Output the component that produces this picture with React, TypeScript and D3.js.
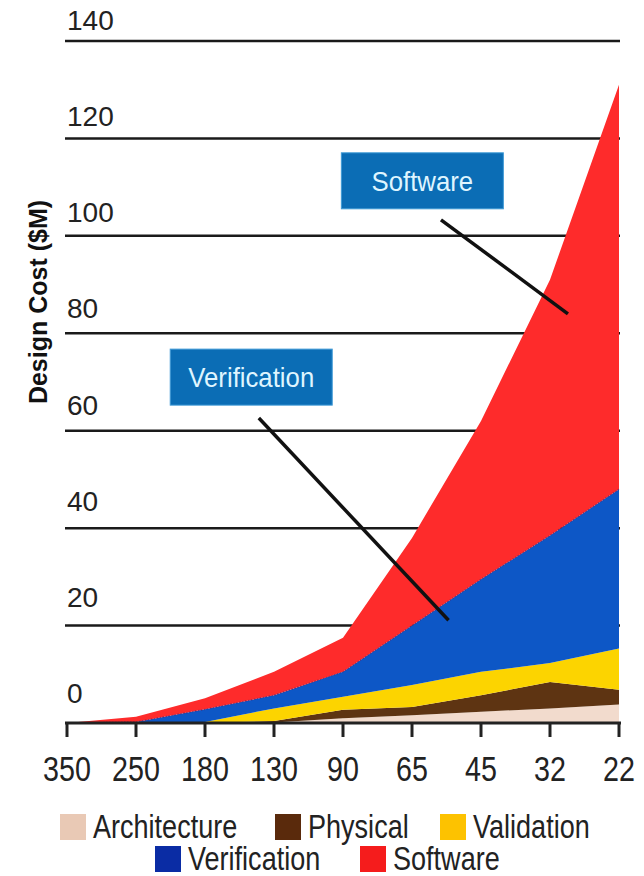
import React, { useEffect, useRef } from "react";
import * as d3 from "d3";

// node sizes (nm)
const categories = ["350", "250", "180", "130", "90", "65", "45", "32", "22"];

// design cost per node, $M
const architecture = [0, 0, 0, 0.1, 1.0, 1.6, 2.3, 3.0, 3.8];
const physical = [0, 0, 0, 0.3, 1.7, 1.7, 3.4, 5.4, 3.0];
const validation = [0, 0, 0.2, 2.6, 2.7, 4.5, 4.8, 3.9, 8.5];
const verification = [0, 0.2, 2.6, 2.7, 5.1, 12.2, 19, 26.2, 32.7];
const software = [0, 1.1, 2.3, 4.8, 7, 18, 32.5, 52.5, 83];

const yTicks = [0, 20, 40, 60, 80, 100, 120, 140];

const seriesNames = ["Architecture", "Physical", "Validation", "Verification", "Software"];
const areaColors = ["#f2dbcd", "#5e3412", "#fcd400", "#0d57c6", "#fe2b2b"];
const legendColors = ["#e9c9b5", "#5a2a0c", "#fdc200", "#0a2ca4", "#f51c1c"];

// callouts: box centre and leader line, in data terms (category + fraction of a step, value)
const callouts = [
  { label: "Software", box: ["65", 0.15, 111.3], from: ["65", 0.42, 103.3], to: ["32", 0.26, 84] },
  { label: "Verification", box: ["130", -0.33, 71], from: ["130", -0.22, 62.6], to: ["65", 0.53, 21.1] },
];

const NARROW = 0.82; // no narrow font installed, squeeze the regular one

const App = () => {
  const ref = useRef<SVGSVGElement>(null);

  useEffect(() => {
    const svg = d3.select(ref.current);
    svg.selectAll("*").remove();

    const x = d3.scalePoint().domain(categories).range([67, 619]).padding(0);
    const y = d3.scaleLinear().domain([0, 140]).range([723, 41]);
    // tick labels sit a little above each gridline
    const yLabel = d3.scaleLinear().domain([0, 140]).range([703, 30]);
    const step = x.step();

    const rows = categories.map((c, i) => ({
      cat: c,
      Architecture: architecture[i],
      Physical: physical[i],
      Validation: validation[i],
      Verification: verification[i],
      Software: software[i],
    }));
    const stacked = d3.stack<any>().keys(seriesNames)(rows);

    // gridlines + labels
    svg
      .append("g")
      .selectAll("line")
      .data(yTicks.filter((d) => d > 0))
      .enter()
      .append("line")
      .attr("x1", 65)
      .attr("x2", 620)
      .attr("y1", (d) => y(d))
      .attr("y2", (d) => y(d))
      .attr("stroke", "#1a1a1a")
      .attr("stroke-width", 2.5);

    svg
      .append("g")
      .selectAll("text")
      .data(yTicks)
      .enter()
      .append("text")
      .attr("x", 67)
      .attr("y", (d) => yLabel(d))
      .attr("font-family", "'Liberation Sans', Arial, sans-serif")
      .attr("font-size", 28)
      .attr("fill", "#222")
      .text((d) => d);

    // stacked areas
    const area = d3
      .area<any>()
      .x((d) => x(d.data.cat) as number)
      .y0((d) => y(d[0]))
      .y1((d) => y(d[1]));

    svg
      .append("g")
      .selectAll("path")
      .data(stacked)
      .enter()
      .append("path")
      .attr("fill", (d, i) => areaColors[i])
      .attr("d", area);

    // dotted seam between verification and software
    const seam = d3
      .line<any>()
      .x((d) => x(d.data.cat) as number)
      .y((d) => y(d[1]));
    svg
      .append("path")
      .datum(stacked[3])
      .attr("fill", "none")
      .attr("stroke", "#5a1f66")
      .attr("stroke-width", 1.2)
      .attr("stroke-dasharray", "1.5 1.5")
      .attr("opacity", 0.7)
      .attr("d", seam);

    // x axis
    const axis = svg.append("g");
    axis
      .append("line")
      .attr("x1", 65)
      .attr("x2", 621)
      .attr("y1", y(0))
      .attr("y2", y(0))
      .attr("stroke", "#222")
      .attr("stroke-width", 3);
    axis
      .selectAll(".tick")
      .data(categories)
      .enter()
      .append("line")
      .attr("x1", (d) => x(d) as number)
      .attr("x2", (d) => x(d) as number)
      .attr("y1", y(0))
      .attr("y2", y(0) + 14)
      .attr("stroke", "#222")
      .attr("stroke-width", 3);
    axis
      .selectAll("text")
      .data(categories)
      .enter()
      .append("text")
      .attr("transform", (d) => `translate(${x(d)},${y(0) + 58}) scale(${NARROW},1)`)
      .attr("text-anchor", "middle")
      .attr("font-family", "'Liberation Sans', Arial, sans-serif")
      .attr("font-size", 35)
      .attr("fill", "#222")
      .text((d) => d);

    // y axis title
    svg
      .append("text")
      .attr("transform", "translate(47,302) rotate(-90)")
      .attr("text-anchor", "middle")
      .attr("font-family", "'Liberation Sans', Arial, sans-serif")
      .attr("font-weight", "bold")
      .attr("font-size", 25)
      .attr("fill", "#111")
      .text("Design Cost ($M)");

    // callouts
    const px = (c: any[]) => (x(c[0]) as number) + c[1] * step;
    callouts.forEach((c) => {
      svg
        .append("line")
        .attr("x1", px(c.from))
        .attr("y1", y(c.from[2] as number))
        .attr("x2", px(c.to))
        .attr("y2", y(c.to[2] as number))
        .attr("stroke", "#111")
        .attr("stroke-width", 3.5);
      const cx = px(c.box);
      const cy = y(c.box[2] as number);
      svg
        .append("rect")
        .attr("x", cx - 81)
        .attr("y", cy - 28)
        .attr("width", 162)
        .attr("height", 56)
        .attr("fill", "#0b6db5")
        .attr("stroke", "#3f9ad6")
        .attr("stroke-width", 1);
      svg
        .append("text")
        .attr("transform", `translate(${cx},${cy + 10}) scale(0.92,1)`)
        .attr("text-anchor", "middle")
        .attr("font-family", "'Liberation Sans', Arial, sans-serif")
        .attr("font-size", 28)
        .attr("fill", "#dff5ff")
        .text(c.label);
    });

    // legend
    const legendPos = [
      [60, 0], [275, 0], [440, 0],
      [155, 1], [360, 1],
    ];
    const legend = svg.append("g");
    seriesNames.forEach((name, i) => {
      const [lx, row] = legendPos[i];
      const ly = 814 + row * 32;
      legend
        .append("rect")
        .attr("x", lx)
        .attr("y", ly)
        .attr("width", 26)
        .attr("height", 26)
        .attr("fill", legendColors[i]);
      legend
        .append("text")
        .attr("transform", `translate(${lx + 33},${ly + 24}) scale(${NARROW},1)`)
        .attr("font-family", "'Liberation Sans', Arial, sans-serif")
        .attr("font-size", 33)
        .attr("fill", "#222")
        .text(name);
    });
  }, []);

  return (
    <svg
      ref={ref}
      width={644}
      height={876}
      style={{ position: "absolute", left: 0, top: 0, background: "#fff" }}
    />
  );
};

export default App;
